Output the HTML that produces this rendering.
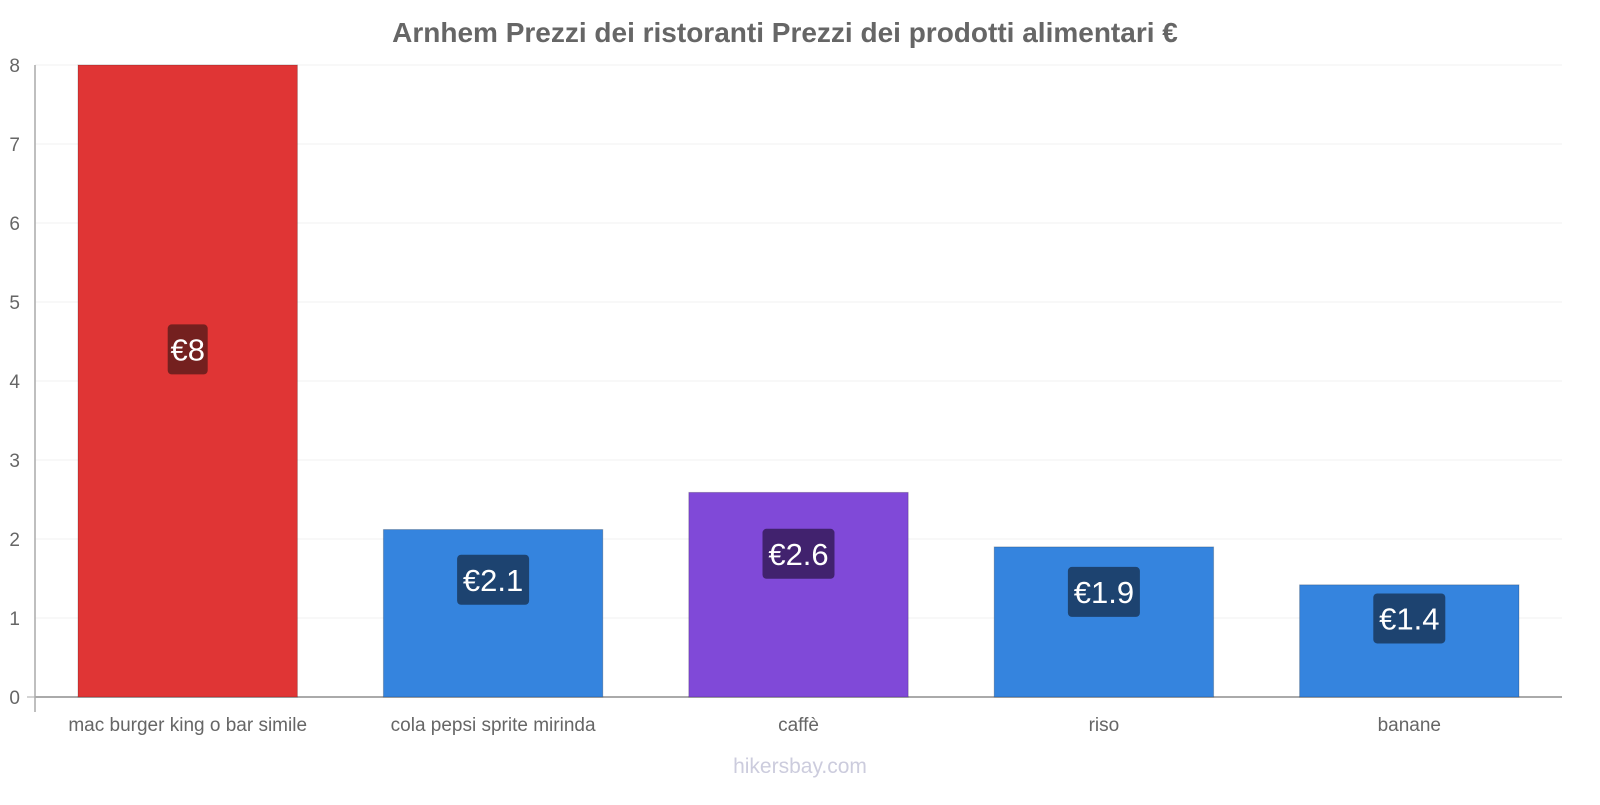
<!DOCTYPE html>
<html><head><meta charset="utf-8"><style>
body{margin:0;background:#fff;font-family:"Liberation Sans",sans-serif}
</style></head><body>
<svg id="chart" width="1600" height="800" xmlns="http://www.w3.org/2000/svg" font-family="Liberation Sans, sans-serif">
<text x="785" y="42" text-anchor="middle" font-size="28" font-weight="bold" fill="#666">Arnhem Prezzi dei ristoranti Prezzi dei prodotti alimentari €</text>
<text x="800" y="773" text-anchor="middle" font-size="21" fill="#ccd">hikersbay.com</text>
<g id="grid"></g><g id="bars"></g><g id="axes"></g>
</svg>
<script>
const categories=["mac burger king o bar simile","cola pepsi sprite mirinda","caffè","riso","banane"];
const values=[8,2.12,2.59,1.9,1.42];
const labels=["€8","€2.1","€2.6","€1.9","€1.4"];
const yTicks=[0,1,2,3,4,5,6,7,8];
const colors=["#e03535","#3584de","#8049d8","#3584de","#3584de"];
const labelColors=["#74201f","#1d4370","#41226e","#1d4370","#1d4370"];
const NS="http://www.w3.org/2000/svg";
const x0=35,x1=1562,y0=697,yTop=65,yMax=8;
const y=v=>y0-(y0-yTop)*v/yMax;
const band=(x1-x0)/categories.length;
const xb=i=>x0+band*i;
function mk(t,a,p){const e=document.createElementNS(NS,t);for(const k in a)e.setAttribute(k,a[k]);p.appendChild(e);return e;}
const grid=document.getElementById('grid'),bars=document.getElementById('bars'),axes=document.getElementById('axes');
yTicks.forEach(t=>{
 const l=mk('line',{x1:x0,x2:x1,y1:y(t),y2:y(t),stroke:t===0?'#aaa':'#f2f2f2','stroke-width':t===0?2:1},grid);
 
 
 const tx=mk('text',{x:20,y:y(t)+7,'text-anchor':'end','font-size':19,fill:'#666'},axes);
 tx.textContent=t;
 
 
});
const ax=mk('line',{x1:x0,x2:x0,y1:yTop,y2:712,stroke:'#aaa','stroke-width':1.5},axes);


mk('line',{x1:27,x2:x0,y1:y0,y2:y0,stroke:'#aaa'},axes);
categories.forEach((c,i)=>{
 const bx=xb(i)+43,bw=band-86;
 const r=mk('rect',{x:bx,y:y(values[i]),width:bw,height:y0-y(values[i]),fill:colors[i],stroke:'rgba(0,0,0,0.2)'},bars);
 
 
 const lv=values[i]>4?values[i]*0.55:values[i]*0.7;
 const cy=y(lv),cx=bx+bw/2,w=labels[i].length*16+8;
 const b=mk('rect',{x:cx-w/2,y:cy-25,width:w,height:50,rx:4,fill:labelColors[i]},bars);
 
 
 const t=mk('text',{x:cx,y:cy+11,'text-anchor':'middle','font-size':31,fill:'#fff'},bars);
 t.textContent=labels[i];
 
 
 const ct=mk('text',{x:cx,y:731,'text-anchor':'middle','font-size':19,fill:'#666'},axes);
 ct.textContent=c;
 
 
});
</script>
</body></html>
